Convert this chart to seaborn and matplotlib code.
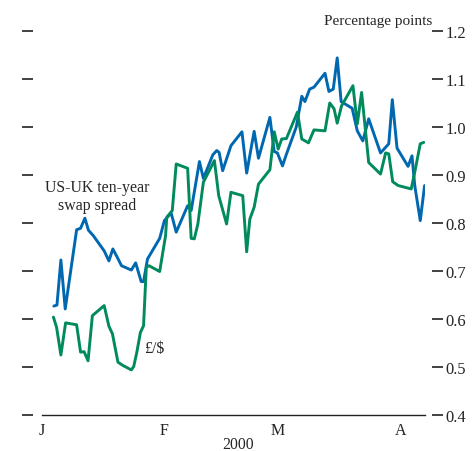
import pandas as pd
import seaborn as sns
from matplotlib import pyplot as plt

# days after 1 Jan 2000 and values
swap_days = [3.0, 3.8, 4.8, 5.9, 8.8, 9.8, 10.9, 11.8, 13.0, 15.8, 17.0, 18.0, 19.1, 20.2, 22.7,
             23.8, 25.2, 25.8, 26.8, 29.9, 31.1, 32.8, 34.1, 37.0, 37.9, 40.0, 41.0, 43.4, 44.4, 45.0,
             45.9, 48.0, 50.8, 52.0, 53.9, 55.0, 57.9, 59.0, 59.8, 61.1, 62.0, 64.6, 66.0, 66.8, 68.0,
             69.1, 71.9, 72.9, 74.0, 75.0, 76.0, 78.8, 80.1, 81.5, 83.0, 86.0, 88.1, 89.0, 90.2, 93.0,
             94.0, 94.7, 96.1, 97.2]
swap_spread = [0.627, 0.629, 0.723, 0.621, 0.786, 0.789, 0.810, 0.785, 0.774, 0.742, 0.721, 0.746,
               0.729, 0.711, 0.702, 0.717, 0.678, 0.678, 0.725, 0.768, 0.805, 0.821, 0.781, 0.836,
               0.826, 0.928, 0.893, 0.942, 0.951, 0.947, 0.909, 0.961, 0.990, 0.904, 0.991, 0.935,
               1.020, 0.949, 0.946, 0.919, 0.941, 1.000, 1.064, 1.053, 1.079, 1.083, 1.112, 1.074,
               1.079, 1.144, 1.053, 1.039, 0.992, 0.971, 1.017, 0.946, 0.965, 1.057, 0.956, 0.918,
               0.940, 0.878, 0.805, 0.878]

fx_days = [2.9, 3.7, 4.8, 6.0, 8.8, 9.8, 10.7, 11.7, 12.8, 15.8, 17.0, 17.9, 19.3, 20.6, 22.7,
           23.3, 24.1, 25.0, 25.8, 26.5, 27.2, 29.9, 31.4, 31.7, 33.1, 34.1, 37.0, 37.9, 38.7, 39.6,
           41.0, 43.8, 44.9, 46.9, 48.0, 51.0, 52.0, 52.8, 53.9, 55.0, 57.9, 59.0, 60.0, 60.9, 62.1,
           64.9, 66.0, 67.7, 69.1, 71.9, 73.1, 74.2, 75.0, 76.1, 79.0, 80.1, 81.2, 83.0, 86.0, 87.3,
           88.1, 89.1, 90.5, 93.8, 94.7, 96.1, 97.0]
fx_rate = [0.604, 0.583, 0.525, 0.592, 0.588, 0.531, 0.532, 0.513, 0.607, 0.628, 0.585, 0.569,
           0.510, 0.503, 0.494, 0.501, 0.531, 0.572, 0.586, 0.708, 0.711, 0.699, 0.774, 0.812,
           0.826, 0.923, 0.914, 0.768, 0.767, 0.798, 0.885, 0.930, 0.857, 0.798, 0.864, 0.857,
           0.740, 0.808, 0.833, 0.881, 0.911, 0.990, 0.954, 0.975, 0.976, 1.031, 0.975, 0.967,
           0.994, 0.992, 1.050, 1.038, 1.008, 1.044, 1.086, 1.006, 1.072, 0.926, 0.902, 0.946,
           0.944, 0.886, 0.878, 0.871, 0.906, 0.965, 0.968]

month_ticks = ['2000-01-01', '2000-02-01', '2000-03-01', '2000-04-01']
month_labels = ['J', 'F', 'M', 'A']
y_ticks = [0.4, 0.5, 0.6, 0.7, 0.8, 0.9, 1.0, 1.1, 1.2]

start = pd.Timestamp('2000-01-01')
swap = pd.DataFrame({'date': start + pd.to_timedelta(swap_days, unit='D'), 'value': swap_spread})
fx = pd.DataFrame({'date': start + pd.to_timedelta(fx_days, unit='D'), 'value': fx_rate})

sns.set_style('white')
plt.rcParams['font.family'] = ['Liberation Serif', 'DejaVu Serif']
plt.rcParams['font.size'] = 11.3

fig = plt.figure(figsize=(4.75, 4.52), dpi=100)
ax = fig.add_axes([0.0884, 0.0796, 0.8063, 0.8496])

sns.lineplot(data=swap, x='date', y='value', ax=ax, color='#0068b0', linewidth=2.1)
sns.lineplot(data=fx, x='date', y='value', ax=ax, color='#008a5e', linewidth=2.1)

ax.set_xlim(start, start + pd.Timedelta(days=97.3))
ax.set_ylim(0.4, 1.2)
ax.set_xlabel('')
ax.set_ylabel('')
ax.set_xticks(pd.to_datetime(month_ticks))
ax.set_xticklabels(month_labels)
ax.set_yticks(y_ticks)

for s in ['top', 'left', 'right']:
    ax.spines[s].set_visible(False)
ax.spines['left'].set_position(('outward', 6.5))
ax.spines['right'].set_position(('outward', 5))
ax.spines['bottom'].set_color('#222222')
ax.spines['bottom'].set_linewidth(1.0)

ax.tick_params(axis='x', direction='in', length=4, width=1, pad=5, colors='#222222', labelsize=11.5)
ax.tick_params(axis='y', which='both', direction='out', length=8, width=1.2, colors='#222222',
               left=True, right=True, labelleft=False, labelright=True, pad=2, labelsize=11.8)

fig.text(0.911, 0.953, 'Percentage points', ha='right', va='center', fontsize=11)
fig.text(0.205, 0.564, 'US-UK ten-year\nswap spread', ha='center', va='center',
         fontsize=11.4, linespacing=1.15)
fig.text(0.324, 0.228, '£/$', ha='center', va='center', fontsize=11.4)
fig.text(0.501, 0.0155, '2000', ha='center', va='center', fontsize=11.3)

fig.savefig('out.png', dpi=100)
